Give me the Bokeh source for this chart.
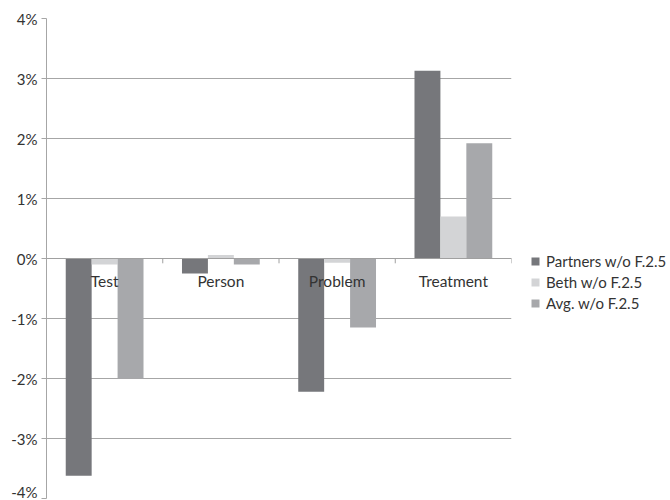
from bokeh.plotting import figure
from bokeh.models import ColumnDataSource, Range1d, Legend, LegendItem, PrintfTickFormatter, FixedTicker
from bokeh.core.properties import value
from bokeh.embed import file_html
from bokeh.resources import INLINE
import numpy as np

categories = ["Test", "Person", "Problem", "Treatment"]
series_names = ["Partners w/o F.2.5", "Beth w/o F.2.5", "Avg. w/o F.2.5"]
partners = [-3.62, -0.25, -2.22, 3.13]
beth = [-0.10, 0.06, -0.07, 0.70]
avg = [-2.00, -0.10, -1.15, 1.92]
y_ticks = [-4, -3, -2, -1, 0, 1, 2, 3, 4]

colors = ["#76777b", "#d3d4d6", "#a7a8ab"]
FONT = "Lato"

p = figure(frame_width=465, frame_height=480, output_backend="svg", toolbar_location=None,
           x_range=Range1d(0, 4), y_range=Range1d(-4, 4),
           min_border_left=46, min_border_right=159, min_border_top=18, min_border_bottom=2)
p.outline_line_color = None
p.background_fill_color = "white"
p.border_fill_color = "white"

centers = np.arange(len(categories)) + 0.5
bw = 0.223
offsets = [-bw, 0.0, bw]
renderers = []
for vals, off, col in zip([partners, beth, avg], offsets, colors):
    src = ColumnDataSource(dict(x=centers + off, top=vals))
    r = p.vbar(x="x", top="top", bottom=0, width=bw, source=src,
               fill_color=col, line_color=None)
    renderers.append(r)

# zero line and category tick marks
p.segment(x0=[0], y0=[0], x1=[4], y1=[0], line_color="#a0a0a0", line_width=1.2)
bounds = np.arange(len(categories) + 1)
p.segment(x0=bounds, y0=[0] * len(bounds), x1=bounds, y1=[-0.08] * len(bounds),
          line_color="#a0a0a0", line_width=1)

# category labels
lsrc = ColumnDataSource(dict(x=centers, y=[0] * len(categories), t=categories))
p.text(x="x", y="y", text="t", source=lsrc, text_align="center", text_baseline="middle",
       y_offset=22, text_font=value(FONT), text_font_size="15.5px", text_color="#333333")

p.xaxis.visible = False
p.xgrid.visible = False
p.ygrid.grid_line_color = "#a6a6a6"
p.ygrid.grid_line_width = 1
p.yaxis.ticker = FixedTicker(ticks=y_ticks)
p.yaxis.formatter = PrintfTickFormatter(format="%d%%")
p.yaxis.axis_line_color = "#a6a6a6"
p.yaxis.major_tick_line_color = "#a6a6a6"
p.yaxis.major_tick_out = 5
p.yaxis.major_tick_in = 0
p.yaxis.minor_tick_line_color = None
p.yaxis.major_label_text_font = FONT
p.yaxis.major_label_text_font_size = "15px"
p.yaxis.major_label_text_color = "#333333"
p.yaxis.major_label_standoff = 4

legend = Legend(items=[LegendItem(label=n, renderers=[r]) for n, r in zip(series_names, renderers)],
                location=(19, 186), border_line_color=None, background_fill_alpha=0,
                label_text_font=FONT, label_text_font_size="15px", label_text_color="#333333",
                glyph_width=10, glyph_height=10, spacing=3, label_standoff=6, padding=0,
                margin=0)
p.add_layout(legend, "right")

open("out.html", "w").write(file_html(p, INLINE))
